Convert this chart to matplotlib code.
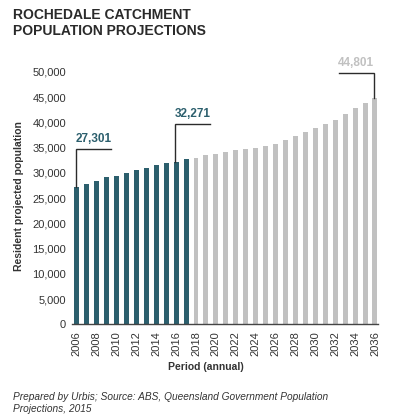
import matplotlib.pyplot as plt
import numpy as np

plt.rcParams['font.family'] = ['Liberation Sans', 'DejaVu Sans']

# Data
years = list(range(2006, 2037))
population = [27301, 27900, 28420, 29150, 29480, 29940, 30600, 31065, 31530, 32055,
              32271, 32715, 32913, 33573, 33771, 34167, 34563, 34761, 34960, 35356,
              35752, 36544, 37337, 38129, 38856, 39648, 40573, 41695, 42818, 43875,
              44801]
last_actual = 2017
year_ticks = list(range(2006, 2037, 2))
y_ticks = list(range(0, 50001, 5000))
callout_years = [2006, 2016, 2036]
callout_tops = [34750, 39640, 49740]

teal = '#2c5f6d'
grey = '#c1c1c1'
text_col = '#333333'

fig = plt.figure(figsize=(3.97, 4.2), dpi=100)
ax = fig.add_axes([0.1806, 0.2274, 0.7714, 0.6012])

x = np.arange(len(years))
colors = [teal if y <= last_actual else grey for y in years]
ax.bar(x, population, width=0.5, color=colors, zorder=2)

ax.set_xlim(-0.5, len(years) - 0.7)
ax.set_ylim(0, 50000)
ax.set_yticks(y_ticks)
ax.set_yticklabels([f'{v:,}' for v in y_ticks], fontsize=8, color=text_col)
ax.set_xticks([years.index(y) for y in year_ticks])
ax.set_xticklabels([str(y) for y in year_ticks], rotation=90, fontsize=8, color=text_col)
ax.tick_params(axis='both', length=0)
ax.tick_params(axis='y', pad=4)
ax.tick_params(axis='x', pad=5)

for s in ['top', 'right', 'left']:
    ax.spines[s].set_visible(False)
ax.spines['bottom'].set_color('#444444')
ax.spines['bottom'].set_linewidth(1.0)

# callouts
for yr, top in zip(callout_years, callout_tops):
    i = years.index(yr)
    val = population[i]
    xv = i - 0.1
    if yr == years[-1]:
        x_end = xv - 3.55
        col = grey
    else:
        x_end = xv + 3.55
        col = teal
    ax.plot([xv, xv, x_end], [val, top, top], color='#2b2b2b', lw=1.0,
            clip_on=False, zorder=3, solid_joinstyle='miter')
    ax.annotate(f'{val:,}', xy=((xv + x_end) / 2, top), xytext=(0, 3),
                textcoords='offset points', ha='center', va='bottom',
                fontsize=8.5, fontweight='bold', color=col, annotation_clip=False)

fig.text(13 / 397, 1 - 8 / 420, 'ROCHEDALE CATCHMENT\nPOPULATION PROJECTIONS',
         ha='left', va='top', fontsize=10, fontweight='bold', color='#2a2a2a',
         linespacing=1.15)
fig.text(19 / 397, 1 - 196 / 420, 'Resident projected population', rotation=90,
         ha='center', va='center', fontsize=7.5, fontweight='bold', color=text_col)
fig.text(206 / 397, 1 - 367 / 420, 'Period (annual)', ha='center', va='center',
         fontsize=7.5, fontweight='bold', color=text_col)
fig.text(13 / 397, 1 - 392 / 420,
         'Prepared by Urbis; Source: ABS, Queensland Government Population\nProjections, 2015',
         ha='left', va='top', fontsize=7.3, style='italic', color=text_col,
         linespacing=1.3)

fig.savefig('out.png', dpi=100)
